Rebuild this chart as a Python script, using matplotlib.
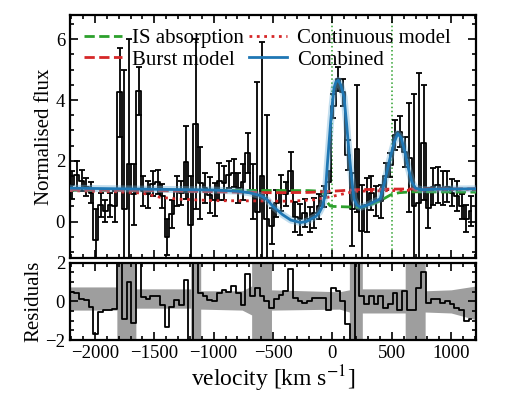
import numpy as np
import matplotlib
matplotlib.use("Agg")
import matplotlib.pyplot as plt
from matplotlib.ticker import MultipleLocator

plt.rcParams['font.family'] = ['Liberation Serif', 'DejaVu Serif']
plt.rcParams['mathtext.fontset'] = 'stix'
plt.rcParams['axes.unicode_minus'] = True

# binned spectrum (40 km/s bins)
vel = np.arange(-2192, 1200, 40)
flux = [1.2, 1.55, 1.35, 1.15, 0.95, -0.6, 0.55, 0.35, 0.55, 0.5,
        4.25, 0.4, 1.9, 0.9, 4.3, 1.0, 0.9, 1.25, 1.3, 0.85,
        -0.5, 0.25, 1.0, 0.95, 1.95, -0.1, 3.2, 1.27, 1.1, 0.88,
        0.72, 1.32, 1.27, 1.54, 1.6, 1.1, 1.3, 2.25, 1.0, 0.3,
        1.5, 0.1, -0.15, 0.6, 0.94, 0.9, 1.65, 0.15, 0.07, 0.28,
        0.07, 0.28, 0.5, 0.83, 1.3, 3.8, 4.7, 4.25, 2.2, 0.4,
        2.4, -0.3, 0.55, 0.94, 0.67, 0.67, 1.49, 1.87, 2.85, 2.96,
        2.3, 2.1, 0.5, 0.6, 2.6, 0.45, 1.15, 1.2, 1.1, 1.15,
        0.95, 0.85, 0.5, 0.1, 0.35]
ferr = [0.45, 0.45, 0.35, 0.3, 0.35, 1.0, 0.4, 0.35, 0.4, 0.5,
        1.45, 4.6, 4.1, 1.0, 0.8, 0.5, 0.45, 0.4, 0.4, 0.4,
        0.6, 0.45, 0.5, 0.4, 1.2, 1.6, 2.8, 1.2, 0.5, 0.6,
        0.55, 0.6, 0.55, 0.45, 0.45, 0.5, 0.6, 0.65, 0.9, 4.3,
        4.4, 3.4, 0.6, 0.45, 0.6, 0.4, 0.65, 0.5, 0.5, 0.45,
        0.4, 0.5, 0.4, 0.35, 0.35, 0.4, 0.4, 0.45, 0.5, 1.2,
        2.1, 1.5, 0.9, 0.55, 0.5, 0.55, 0.45, 0.4, 0.5, 0.5,
        0.5, 1.8, 3.7, 4.3, 1.9, 0.65, 0.6, 0.6, 0.55, 0.5,
        0.45, 0.5, 0.4, 0.45, 0.5]
resid = [0.5, 0.45, 0.1, 0.05, -0.27, -1.7, -0.55, -0.45, -0.45, -0.4,
         2.5, -0.9, 1.0, -1.1, 2.5, 0.25, 0.1, 0.3, 0.3, -0.2,
         -1.3, -0.3, 0.05, -0.2, 1.1, -3.0, 3.0, 0.45, 0.26, 0.08,
         0.0, 0.45, 0.6, 0.5, 0.8, 0.45, -0.2, 1.4, 0.3, 0.7,
         0.3, 0.0, -0.35, 0.1, 0.35, 0.54, 1.7, 0.19, 0.0, -0.08,
         0.0, 0.19, 0.19, 0.19, -0.43, 0.72, 0.54, 0.0, -1.15, -2.5,
         3.0, 0.3, -0.15, 0.3, -0.15, 0.3, -0.35, -0.15, 0.45, -0.45,
         0.54, -0.45, -0.45, 0.7, 1.5, -0.1, 0.1, 0.1, -0.1, 0.0,
         -0.15, -0.35, -0.45, -1.0, -0.9]

# model curves
comb_v = [-2210, -1800, -1400, -1000, -800, -700, -600, -550, -500, -420,
          -350, -270, -220, -140, -110, -84, -60, -42, -28, -14,
          0, 14, 30, 50, 70, 98, 120, 140, 160, 182,
          205, 235, 300, 350, 403, 440, 480, 520, 550, 580,
          610, 640, 670, 700, 750, 900, 1210]
comb_f = [1.1, 1.08, 1.06, 1.04, 1.0, 0.95, 0.85, 0.72, 0.5, 0.23,
          0.05, -0.03, 0.0, 0.17, 0.3, 0.5, 0.9, 1.9, 2.6, 3.3,
          3.9, 4.4, 4.6, 4.65, 4.5, 4.1, 3.2, 2.3, 1.5, 0.75,
          0.55, 0.47, 0.55, 0.65, 0.75, 1.3, 2.0, 2.6, 2.9, 2.75,
          2.3, 1.75, 1.3, 1.1, 1.05, 1.07, 1.08]
is_v = [-2210, -1000, -200, -90, -70, -45, -20, 0, 235, 300,
        400, 490, 560, 660, 1210]
is_f = [1.03, 1.03, 1.02, 1.0, 0.9, 0.65, 0.52, 0.5, 0.47, 0.52,
        0.68, 0.88, 0.95, 0.98, 0.97]
burst_v = [-2210, -1500, -1000, -500, -200, 0, 200, 500, 1210]
burst_f = [1.05, 1.02, 0.98, 0.95, 0.96, 1.0, 1.05, 1.07, 1.08]
cont_v = [-2210, -1800, -1600, -1450, -1300, -1000, -600, -350, -150, 0,
          100, 200, 500, 1210]
cont_f = [1.02, 0.98, 0.94, 0.8, 0.74, 0.69, 0.68, 0.67, 0.72, 0.83,
          0.92, 1.0, 1.02, 1.07]

# residual uncertainty band
band_v = [-2212, -1815, -1815, -1655, -1655, -1193, -1193, -1109, -1109, -760,
          -680, -680, -513, -513, 60, 143, 143, 252, 252, 613,
          613, 781, 781, 1000, 1210]
band_lo = [-0.45, -0.45, -3, -3, -0.35, -0.35, -3, -3, -0.4, -0.45,
           -0.7, -3, -3, -0.45, -0.4, -0.55, -3, -3, -0.6, -0.6,
           -3, -3, -0.55, -0.6, -0.95]
band_hi = [0.75, 0.75, 3, 3, 0.65, 0.65, 3, 3, 0.55, 0.55,
           0.8, 3, 3, 0.6, 0.5, 0.6, 3, 3, 0.65, 0.65,
           3, 3, 0.55, 0.6, 0.8]

line_vel = [0, 500]

fig = plt.figure(figsize=(5.07, 3.94), dpi=100)
ax = fig.add_axes([0.138, 0.345, 0.801, 0.617])
axr = fig.add_axes([0.138, 0.137, 0.801, 0.196])

ax.step(vel, flux, where='mid', color='k', lw=1.3, zorder=2)
ax.errorbar(vel, flux, yerr=ferr, fmt='none', ecolor='k', elinewidth=1.3,
            capsize=2.5, capthick=1.3, zorder=2)

for v in line_vel:
    ax.axvline(v, color='#2ca02c', ls=':', lw=1.1, zorder=1)

ax.plot(is_v, is_f, color='#2ca02c', ls='--', lw=2, label='IS absorption', zorder=3)
ax.plot(burst_v, burst_f, color='#d62728', ls='--', lw=2, label='Burst model', zorder=3)
ax.plot(cont_v, cont_f, color='#d62728', ls=':', lw=2, label='Continuous model', zorder=3)
ax.plot(comb_v, comb_f, color='#6baed6', lw=5, alpha=0.4, zorder=4)
ax.plot(comb_v, comb_f, color='#1f77b4', lw=2, label='Combined', zorder=5)

ax.set_xlim(-2210, 1210)
ax.set_ylim(-1.2, 6.8)
ax.set_yticks([0, 2, 4, 6])
ax.yaxis.set_minor_locator(MultipleLocator(0.5))
ax.xaxis.set_major_locator(MultipleLocator(500))
ax.xaxis.set_minor_locator(MultipleLocator(100))
ax.tick_params(labelbottom=False)
ax.set_ylabel('Normalised flux', fontsize=15, labelpad=1)
ax.legend(loc='upper left', ncol=2, frameon=False, fontsize=15,
          handlelength=1.85, columnspacing=0.2, labelspacing=0.1,
          borderaxespad=0.25, handletextpad=0.5)

axr.fill_between(band_v, band_lo, band_hi, color='0.62', lw=0, zorder=1)
axr.step(vel, resid, where='mid', color='k', lw=1.3, zorder=2)
axr.set_xlim(-2210, 1210)
axr.set_ylim(-2, 2)
axr.set_yticks([-2, 0, 2])
axr.yaxis.set_minor_locator(MultipleLocator(0.5))
axr.xaxis.set_major_locator(MultipleLocator(500))
axr.xaxis.set_minor_locator(MultipleLocator(100))
axr.set_ylabel('Residuals', fontsize=15, labelpad=1)
axr.set_xlabel('velocity [km s$^{-1}$]', fontsize=17, labelpad=1)

for a in (ax, axr):
    a.tick_params(which='both', direction='in', top=True, right=True,
                  labelsize=13.5, width=1.2)
    a.tick_params(which='major', length=6)
    a.tick_params(which='minor', length=3)
    for s in a.spines.values():
        s.set_linewidth(1.6)

fig.savefig('out.png', dpi=100)
